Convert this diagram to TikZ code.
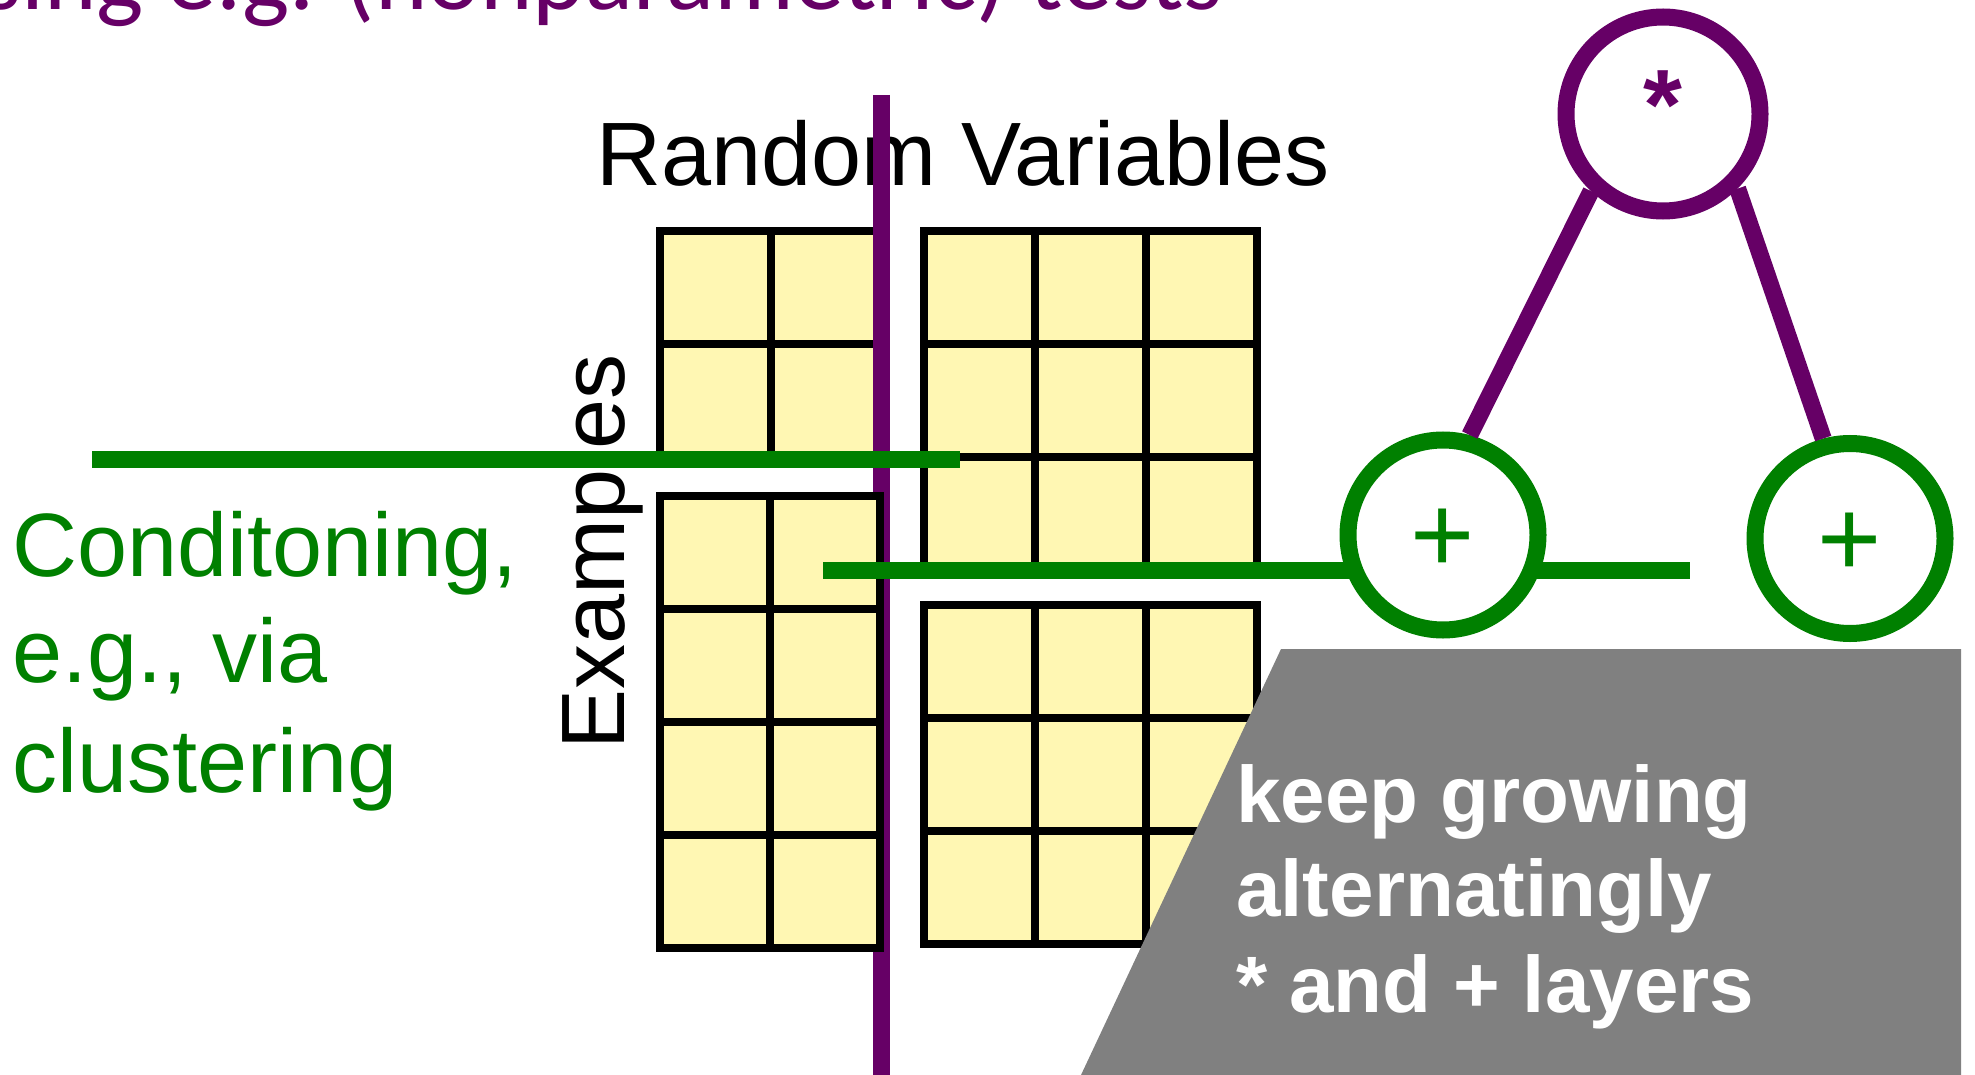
\documentclass[tikz,border=0pt]{standalone}
\usepackage{fontspec}
\setmainfont{Liberation Sans}
\newfontfamily\slidefont{Carlito}
\usetikzlibrary{calc}
\definecolor{cellyellow}{HTML}{FFF7B3}
\definecolor{condgreen}{HTML}{008000}
\definecolor{prodpurple}{HTML}{660066}
\definecolor{notegray}{HTML}{808080}
% block of cells: left, top, columns, rows, cell width
\newcommand{\cellblock}[5]{%
  \foreach \col in {1,...,#3}
    \foreach \row in {1,...,#4}
      \draw[cell] ({#1+(\col-1)*#5}, {#2+(\row-1)*113}) rectangle ++(#5,113);}

\begin{document}
\begin{tikzpicture}[
    x=1pt, y=-1pt,
    cell/.style={draw=black, line width=8, fill=cellyellow},
    txt/.style={inner sep=0, anchor=base west, font=\fontsize{90}{108}\selectfont},
    note/.style={inner sep=0, anchor=base west, text=white, font=\bfseries\fontsize{80}{95}\selectfont},
    sumnode/.style={circle, draw=condgreen, line width=17, fill=white, minimum size=190, inner sep=0, text=condgreen, font=\fontsize{110}{110}\selectfont},
    prodnode/.style={sumnode, draw=prodpurple, minimum size=194, text=prodpurple, font=\bfseries\fontsize{100}{100}\selectfont},
    cond/.style={draw=condgreen, line width=17},
    link/.style={draw=prodpurple, line width=17}
]
\useasboundingbox (0,0) rectangle (1975,1075);
\clip (0,0) rectangle (1975,1075);

\node[txt, text=prodpurple, font=\slidefont\fontsize{100}{120}\selectfont] (tests) at (-18,10) {sing e.g. (nonparametric) tests};
\node[txt] (vars) at (596,186) {Random Variables};
\node[txt, rotate=90] (examples) at (624,750) {Examples};

% data blocks
\cellblock{660}{231}{2}{2}{111}
\cellblock{924}{231}{3}{3}{111}
\cellblock{924}{605}{3}{3}{111}

\coordinate (splittop) at (881.5,95);
\coordinate (splitbot) at (881.5,1075);
\draw[link] (splittop) -- (splitbot);

\cellblock{660}{496}{2}{4}{110}

% conditioning cuts
\coordinate (cut1a) at (92,459);
\coordinate (cut1b) at (960,459);
\coordinate (cut2a) at (823,570);
\coordinate (cut2b) at (1690,570);
\draw[cond] (cut1a) -- (cut1b);
\draw[cond] (cut2a) -- (cut2b);

\node[prodnode] (prod) at (1663,114) {\raisebox{9pt}[\height][\depth]{*}};
\node[sumnode] (sumL) at (1443,535) {\raisebox{-6pt}[\height][\depth]{+}};
\node[sumnode] (sumR) at (1850,538.5) {\raisebox{-6pt}[\height][\depth]{+}};
\draw[link] (prod.227) -- (sumL.75);
\draw[link] (prod.315) -- (sumR.105);

\fill[notegray] (1281,649) -- (1961,649) -- (1961,1075) -- (1081,1075) -- cycle;
\node[note] (note1) at (1236,822) {keep growing};
\node[note] (note2) at (1236,916) {alternatingly};
\node[note] (note3) at (1236,1012) {* and + layers};

\node[txt, text=condgreen] (cond1) at (12,576) {Conditoning,};
\node[txt, text=condgreen] (cond2) at (12,682) {e.g., via};
\node[txt, text=condgreen] (cond3) at (12,792) {clustering};
\end{tikzpicture}
\end{document}
